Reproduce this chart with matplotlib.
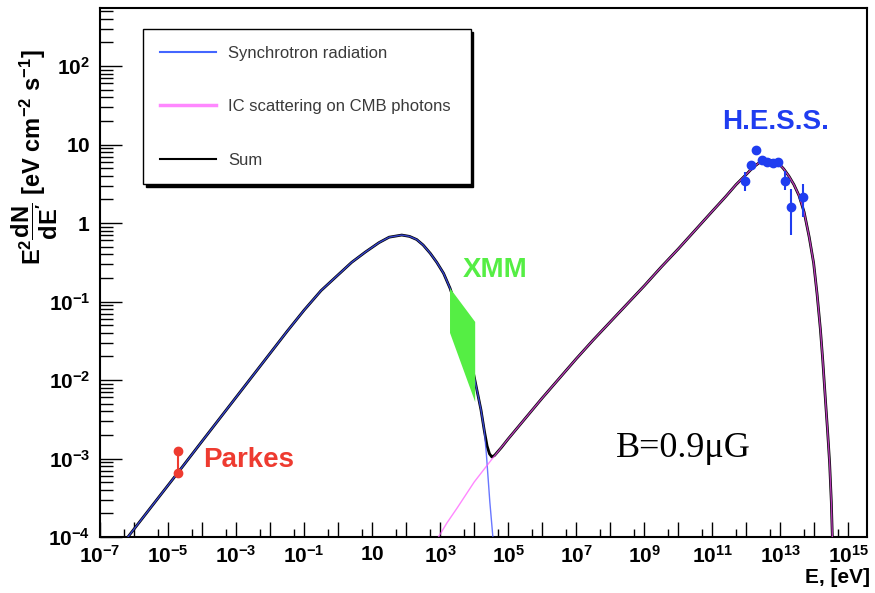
import numpy as np
import matplotlib.pyplot as plt
from matplotlib.ticker import FixedLocator, FixedFormatter, NullFormatter

plt.rcParams['font.family'] = ['Liberation Sans', 'DejaVu Sans']
plt.rcParams['mathtext.fontset'] = 'custom'
plt.rcParams['mathtext.rm'] = 'Liberation Sans:bold'
plt.rcParams['mathtext.it'] = 'Liberation Sans:bold'
plt.rcParams['mathtext.bf'] = 'Liberation Sans:bold'

# values, log10(E / eV) and log10(E^2 dN/dE)
sync_logE = [-6.18, -5.5, -4.71, -4.0, -3.0, -2.0, -1.5, -1.0, -0.5, 0.0, 0.4, 0.8,
             1.2, 1.5, 1.87, 2.1, 2.31, 2.5, 2.71, 2.9, 3.1, 3.29, 3.5, 3.7, 3.9,
             4.03, 4.2, 4.3, 4.36, 4.41, 4.46, 4.51, 4.55]
sync_logF = [-4.0, -3.62, -3.18, -2.78, -2.22, -1.66, -1.38, -1.11, -0.86, -0.66, -0.50, -0.37,
             -0.25, -0.18, -0.153, -0.17, -0.21, -0.28, -0.386, -0.50, -0.64, -0.83, -1.10, -1.40, -1.75,
             -2.02, -2.38, -2.65, -2.95, -3.25, -3.55, -3.80, -4.0]

ic_logE = [2.95, 3.2, 3.5, 4.0, 4.5, 5.0, 5.5, 6.0, 6.5, 7.0, 7.5, 8.0, 8.5, 9.0,
           9.5, 10.0, 10.5, 11.0, 11.4, 11.7, 12.0, 12.2, 12.4, 12.6, 12.8, 12.95,
           13.1, 13.25, 13.4, 13.55, 13.7, 13.85, 13.98, 14.08, 14.18, 14.25, 14.32,
           14.39, 14.45, 14.5, 14.53]
ic_logF = [-4.0, -3.82, -3.63, -3.30, -3.02, -2.75, -2.49, -2.23, -1.98, -1.73, -1.49, -1.26, -1.03, -0.80,
           -0.56, -0.33, -0.09, 0.15, 0.34, 0.49, 0.62, 0.71, 0.775, 0.805, 0.795, 0.76,
           0.69, 0.60, 0.49, 0.35, 0.14, -0.18, -0.51, -0.90, -1.36, -1.76, -2.21,
           -2.65, -3.06, -3.55, -4.0]

sum_logE = [-6.18, -5.5, -4.71, -4.0, -3.0, -2.0, -1.5, -1.0, -0.5, 0.0, 0.4, 0.8,
            1.2, 1.5, 1.87, 2.1, 2.31, 2.5, 2.71, 2.9, 3.1, 3.29, 3.5, 3.7, 3.9,
            4.03, 4.2, 4.3, 4.38, 4.45, 4.52, 4.6, 4.7, 4.8, 5.0, 5.5, 6.0, 6.5, 7.0,
            7.5, 8.0, 8.5, 9.0, 9.5, 10.0, 10.5, 11.0, 11.4, 11.7, 12.0, 12.2, 12.4,
            12.6, 12.8, 12.95, 13.1, 13.25, 13.4, 13.55, 13.7, 13.85, 13.98, 14.08,
            14.18, 14.25, 14.32, 14.39, 14.45, 14.5, 14.53]
sum_logF = [-4.0, -3.62, -3.18, -2.78, -2.22, -1.66, -1.38, -1.11, -0.86, -0.66, -0.50, -0.37,
            -0.25, -0.18, -0.153, -0.17, -0.21, -0.28, -0.386, -0.50, -0.64, -0.83, -1.10, -1.40, -1.75,
            -2.02, -2.38, -2.65, -2.84, -2.94, -2.98, -2.96, -2.91, -2.86, -2.75, -2.49, -2.23, -1.98, -1.73,
            -1.49, -1.26, -1.03, -0.80, -0.56, -0.33, -0.09, 0.15, 0.34, 0.49, 0.62, 0.71, 0.775,
            0.805, 0.795, 0.76, 0.69, 0.60, 0.49, 0.35, 0.14, -0.18, -0.51, -0.90,
            -1.36, -1.76, -2.21, -2.65, -3.06, -3.55, -4.0]

# H.E.S.S. points
hess_logE = [11.95, 12.13, 12.29, 12.46, 12.62, 12.78, 12.93, 13.13, 13.30, 13.67]
hess_logF = [0.54, 0.74, 0.93, 0.80, 0.78, 0.77, 0.78, 0.54, 0.21, 0.33]
hess_up = [0.65, 0.77, 0.96, 0.83, 0.81, 0.80, 0.81, 0.66, 0.44, 0.50]
hess_lo = [0.41, 0.71, 0.90, 0.77, 0.75, 0.74, 0.75, 0.42, -0.15, 0.08]

# Parkes radio point
parkes_logE = [-4.72, -4.72]
parkes_logF = [-2.91, -3.18]

# XMM bow tie
xmm_logE = [3.29, 4.03, 4.03, 3.29]
xmm_logF = [-0.83, -1.26, -2.28, -1.40]

xt_exp = list(range(-7, 16))
xt_lab = [(r'$10$' if e == 1 else r'$10^{%d}$' % e) if e % 2 else '' for e in xt_exp]
yt_exp = list(range(-4, 3))
yt_lab = [r'$1$' if e == 0 else r'$10$' if e == 1 else r'$10^{%d}$' % e for e in yt_exp]

p = lambda v: 10.0 ** np.array(v)

fig = plt.figure(figsize=(8.75, 5.93), dpi=100)
ax = fig.add_axes([100 / 875, 1 - 537 / 593, 766.7 / 875, 529 / 593])

ax.plot(p(sum_logE), p(sum_logF), color='black', lw=2.0, zorder=3)
ax.plot(p(sync_logE), p(sync_logF), color='#4455ff', lw=1.0, alpha=0.8, zorder=4)
ax.plot(p(ic_logE), p(ic_logF), color='#ff55ff', lw=1.0, alpha=0.7, zorder=4)

ax.fill(p(xmm_logE), p(xmm_logF), color='#55ee44', lw=0, zorder=5)

hE = p(hess_logE)
hF = p(hess_logF)
ax.errorbar(hE, hF, yerr=[hF - p(hess_lo), p(hess_up) - hF], fmt='o', color='#1f3df0',
            ms=6, elinewidth=1.5, capsize=0, zorder=6)
ax.plot(p(parkes_logE), p(parkes_logF), 'o-', color='#ee3b30', ms=6, lw=1.5, zorder=6)

ax.set_xscale('log')
ax.set_yscale('log')
ax.set_xlim(1e-7, 10 ** 15.54)
ax.set_ylim(1e-4, 10 ** 2.74)

ax.xaxis.set_major_locator(FixedLocator(p(xt_exp)))
ax.xaxis.set_major_formatter(FixedFormatter(xt_lab))
ax.xaxis.set_minor_locator(FixedLocator(5 * p(range(-8, 16))))
ax.xaxis.set_minor_formatter(NullFormatter())
ax.yaxis.set_major_locator(FixedLocator(p(yt_exp)))
ax.yaxis.set_major_formatter(FixedFormatter(yt_lab))
ax.yaxis.set_minor_locator(FixedLocator([m * 10.0 ** e for e in range(-4, 3) for m in range(2, 10)]))
ax.yaxis.set_minor_formatter(NullFormatter())

ax.tick_params(axis='both', which='both', direction='in', top=False, right=False)
ax.tick_params(axis='x', which='major', length=11, width=1.0, pad=6, labelsize=15)
ax.tick_params(axis='x', which='minor', length=6, width=1.0)
ax.tick_params(axis='y', which='major', length=16, width=1.0, pad=7, labelsize=15)
ax.tick_params(axis='y', which='minor', length=9, width=1.0)
for s in ax.spines.values():
    s.set_linewidth(1.5)

ax.set_xlabel('E, [eV]', fontsize=15, fontweight='bold', ha='right', va='center')
ax.xaxis.set_label_coords(1.004, -0.0775)
ax.set_ylabel(r'$\mathrm{E^{2}\dfrac{dN}{dE^{\prime}}}$ [eV cm$^{-2}$ s$^{-1}$]',
              fontsize=17, fontweight='bold', ha='center', va='center')
ax.yaxis.set_label_coords(-0.085, 0.718)

ax.text(0.134, 0.146, 'Parkes', transform=ax.transAxes, color='#ee3b30',
        fontsize=20, fontweight='bold', ha='left', va='center')
ax.text(0.4735, 0.505, 'XMM', transform=ax.transAxes, color='#55ee44',
        fontsize=20, fontweight='bold', ha='left', va='center')
ax.text(0.811, 0.785, 'H.E.S.S.', transform=ax.transAxes, color='#1f3df0',
        fontsize=20, fontweight='bold', ha='left', va='center')
ax.text(0.761, 0.168, 'B=0.9\u03bcG', transform=ax.transAxes, color='black',
        fontsize=26, family='Liberation Serif', ha='center', va='center')

h1, = ax.plot([], [], color='#4466ff', lw=1.5)
h2, = ax.plot([], [], color='#ff88ff', lw=2.5)
h3, = ax.plot([], [], color='black', lw=1.5)
leg = ax.legend([h1, h2, h3], ['Synchrotron radiation', 'IC scattering on CMB photons', 'Sum'],
                loc='upper left', bbox_to_anchor=(143 / 875, 1 - 184 / 593, 327.7 / 875, 154.7 / 593),
                bbox_transform=fig.transFigure, mode='expand', borderaxespad=0,
                fontsize=12, labelspacing=2.3, handlelength=3.4, handletextpad=0.7,
                borderpad=1.0, fancybox=False, edgecolor='black',
                shadow={'color': 'black', 'alpha': 1.0})
leg.get_frame().set_linewidth(1.0)
for t in leg.get_texts():
    t.set_color('#3a3a3a')

fig.savefig('out.png', dpi=100)
